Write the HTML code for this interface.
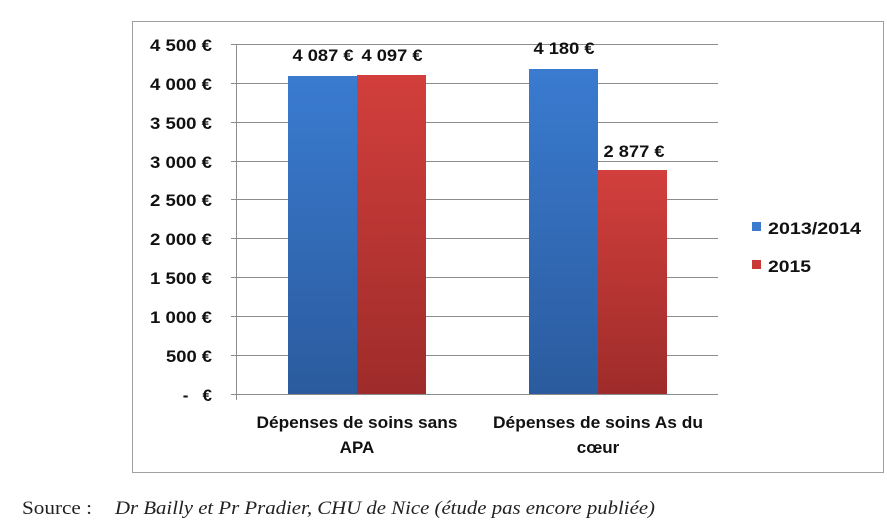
<!DOCTYPE html>
<html><head><style>
body{margin:0;background:#fff;width:887px;height:529px;overflow:hidden}
</style></head><body>
<svg width="887" height="529" xmlns="http://www.w3.org/2000/svg" style="position:absolute;left:0;top:0">
<defs>
<linearGradient id="b" x1="0" y1="0" x2="0" y2="1"><stop offset="0" stop-color="#3a7bd0"/><stop offset="1" stop-color="#2b5b9e"/></linearGradient>
<linearGradient id="r" x1="0" y1="0" x2="0" y2="1"><stop offset="0" stop-color="#d23f3c"/><stop offset="1" stop-color="#9e2c2a"/></linearGradient>
</defs>
<rect x="132.5" y="21.5" width="751" height="451" fill="#fff" stroke="#a0a0a0"/>
<g stroke="#8c8c8c" stroke-width="1">
<line x1="231" y1="44.5" x2="718" y2="44.5"/>
<line x1="231" y1="83.5" x2="718" y2="83.5"/>
<line x1="231" y1="122.5" x2="718" y2="122.5"/>
<line x1="231" y1="161.5" x2="718" y2="161.5"/>
<line x1="231" y1="199.5" x2="718" y2="199.5"/>
<line x1="231" y1="238.5" x2="718" y2="238.5"/>
<line x1="231" y1="277.5" x2="718" y2="277.5"/>
<line x1="231" y1="316.5" x2="718" y2="316.5"/>
<line x1="231" y1="355.5" x2="718" y2="355.5"/>
<line x1="231" y1="394.5" x2="718" y2="394.5"/>
<line x1="236.5" y1="44" x2="236.5" y2="400"/>
</g>
<rect x="288" y="76" width="69" height="318" fill="url(#b)"/>
<rect x="357" y="75" width="69" height="319" fill="url(#r)"/>
<rect x="529" y="69" width="69" height="325" fill="url(#b)"/>
<rect x="598" y="170" width="69" height="224" fill="url(#r)"/>
<g font-family="Liberation Sans, sans-serif" font-weight="bold" font-size="17" fill="#111" text-anchor="end">
<text x="212" y="51" textLength="62" lengthAdjust="spacingAndGlyphs">4 500 €</text>
<text x="212" y="90" textLength="62" lengthAdjust="spacingAndGlyphs">4 000 €</text>
<text x="212" y="129" textLength="62" lengthAdjust="spacingAndGlyphs">3 500 €</text>
<text x="212" y="168" textLength="62" lengthAdjust="spacingAndGlyphs">3 000 €</text>
<text x="212" y="206" textLength="62" lengthAdjust="spacingAndGlyphs">2 500 €</text>
<text x="212" y="245" textLength="62" lengthAdjust="spacingAndGlyphs">2 000 €</text>
<text x="212" y="284" textLength="62" lengthAdjust="spacingAndGlyphs">1 500 €</text>
<text x="212" y="323" textLength="62" lengthAdjust="spacingAndGlyphs">1 000 €</text>
<text x="212" y="362" textLength="46" lengthAdjust="spacingAndGlyphs">500 €</text>
<text x="212" y="401">-&#160;&#160;&#160;€</text>
</g>
<g font-family="Liberation Sans, sans-serif" font-weight="bold" font-size="17" fill="#111" text-anchor="middle">
<text x="323" y="61" textLength="61" lengthAdjust="spacingAndGlyphs">4 087 €</text>
<text x="392" y="61" textLength="61" lengthAdjust="spacingAndGlyphs">4 097 €</text>
<text x="564" y="54" textLength="61" lengthAdjust="spacingAndGlyphs">4 180 €</text>
<text x="634" y="157" textLength="61" lengthAdjust="spacingAndGlyphs">2 877 €</text>
<text x="357" y="428" textLength="201" lengthAdjust="spacingAndGlyphs">Dépenses de soins sans</text>
<text x="357" y="453">APA</text>
<text x="598" y="428" textLength="210" lengthAdjust="spacingAndGlyphs">Dépenses de soins As du</text>
<text x="598" y="453">cœur</text>
</g>
<rect x="752" y="222" width="9" height="9" fill="#3a7bd0"/>
<rect x="752" y="260" width="9" height="9" fill="#c93a37"/>
<g font-family="Liberation Sans, sans-serif" font-weight="bold" font-size="17" fill="#111">
<text x="768" y="234" textLength="93" lengthAdjust="spacingAndGlyphs">2013/2014</text>
<text x="768" y="272" textLength="43" lengthAdjust="spacingAndGlyphs">2015</text>
</g>
<text x="22" y="514" font-family="Liberation Serif, serif" font-size="19" fill="#222" textLength="70" lengthAdjust="spacingAndGlyphs">Source :</text>
<text x="115" y="514" font-family="Liberation Serif, serif" font-style="italic" font-size="19" fill="#222" textLength="540" lengthAdjust="spacingAndGlyphs">Dr Bailly et Pr Pradier, CHU de Nice (étude pas encore publiée)</text>
</svg>
</body></html>
